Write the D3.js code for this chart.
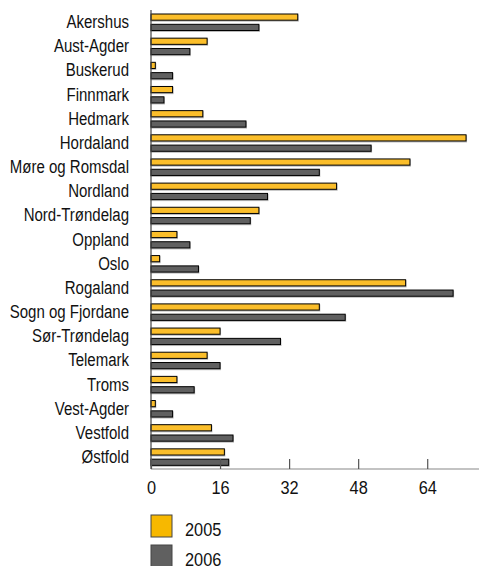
<!DOCTYPE html>
<html><head><meta charset="utf-8">
<script src="https://cdn.jsdelivr.net/npm/d3@7"></script>
<style>
html,body{margin:0;padding:0;background:#fff;}
svg text{font-family:"Liberation Sans",Arial,sans-serif;fill:#111;}
</style></head>
<body>
<svg id="chart" width="479" height="566"></svg>
<script>
const categories = ["Akershus","Aust-Agder","Buskerud","Finnmark","Hedmark","Hordaland","Møre og Romsdal","Nordland","Nord-Trøndelag","Oppland","Oslo","Rogaland","Sogn og Fjordane","Sør-Trøndelag","Telemark","Troms","Vest-Agder","Vestfold","Østfold"];
const series = ["2005","2006"];
const values2005 = [34,13,1,5,12,73,60,43,25,6,2,59,39,16,13,6,1,14,17];
const values2006 = [25,9,5,3,22,51,39,27,23,9,11,70,45,30,16,10,5,19,18];
const tickValues = [0,16,32,48,64];
const colors = ["#FBBE2A","#606060"];
const legendColors = ["#F7B800","#606060"];

const FONT = "Liberation Sans, Arial, sans-serif";
function condense(sel, s){
  sel.each(function(){
    const t = d3.select(this);
    const xv = +(t.attr("x")||0);
    t.attr("x", xv/s).attr("transform", `scale(${s},1)`);
  });
}

const svg = d3.select("#chart");
const x = d3.scaleLinear().domain([0,76]).range([151,479]);
const y = d3.scaleBand().domain(categories).range([10,469]).padding(0);
const yi = d3.scaleBand().domain(series).range([4,20.5]).paddingInner(0.4);

const data = categories.map((c,i)=>({c, vals:[values2005[i], values2006[i]]}));

const g = svg.append("g");
const rows = g.selectAll("g.row").data(data).join("g").attr("class","row")
  .attr("transform", d=>`translate(0,${y(d.c)})`);
rows.selectAll("rect.shadow").data(d=>d.vals.map((v,k)=>({v,s:series[k],k})))
  .join("rect").attr("class","shadow")
  .attr("x", x(0)-0.5).attr("y", d=>yi(d.s)+0.5)
  .attr("width", d=>x(d.v)-x(0)+1.5).attr("height", yi.bandwidth()+1)
  .attr("fill","#bbb");
rows.selectAll("rect.bar").data(d=>d.vals.map((v,k)=>({v,s:series[k],k})))
  .join("rect").attr("class","bar")
  .attr("x", x(0)).attr("y", d=>yi(d.s))
  .attr("width", d=>x(d.v)-x(0)).attr("height", yi.bandwidth())
  .attr("fill", d=>colors[d.k]).attr("stroke","#000").attr("stroke-width",1);

// left axis
const yAxis = d3.axisLeft(y).tickSize(0).tickPadding(22);
const ya = svg.append("g").attr("transform",`translate(${x(0)},0)`).call(yAxis);
ya.select(".domain").attr("stroke","#444").attr("stroke-width",1.2).attr("d","M0,10V469");
ya.selectAll("text").attr("font-size",19).attr("fill","#111").attr("font-family",FONT)
  .call(condense, 0.79);

// bottom axis
const xAxis = d3.axisBottom(x).tickValues(tickValues).tickSize(-10).tickPadding(12).tickFormat(d3.format("d"));
const xa = svg.append("g").attr("transform","translate(0,469)").call(xAxis);
xa.select(".domain").attr("stroke","#888").attr("stroke-width",1.2).attr("d","M151,0H479");
xa.selectAll(".tick line").attr("stroke","#555").attr("stroke-width",1.2);
xa.selectAll("text").attr("font-size",19).attr("fill","#111").attr("font-family",FONT)
  .call(condense, 0.86);

// legend
const leg = svg.append("g").selectAll("g").data(series).join("g")
  .attr("transform",(d,i)=>`translate(151,${515+i*30})`);
leg.append("rect").attr("width",21).attr("height",22)
  .attr("fill",(d,i)=>legendColors[i]).attr("stroke","#444").attr("stroke-width",1);
leg.append("text").attr("x",34).attr("y",20.7).attr("font-size",19).attr("font-family",FONT)
  .text(d=>d).call(condense, 0.86);
</script>
</body></html>
